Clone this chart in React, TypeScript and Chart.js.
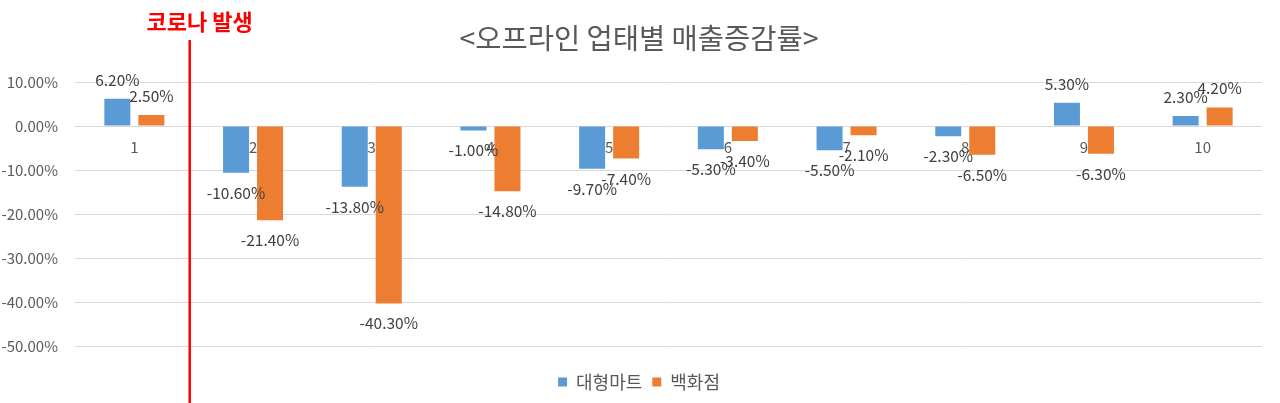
import React, { useEffect, useRef } from 'react';
import { Chart, registerables } from 'chart.js';

Chart.register(...registerables);

const categories = ['1', '2', '3', '4', '5', '6', '7', '8', '9', '10'];
const hypermarketValues = [6.2, -10.6, -13.8, -1.0, -9.7, -5.3, -5.5, -2.3, 5.3, 2.3];
const departmentValues = [2.5, -21.4, -40.3, -14.8, -7.4, -3.4, -2.1, -6.5, -6.3, 4.2];
const seriesNames = ['대형마트', '백화점'];
const seriesColors = ['#5B9BD5', '#ED7D31'];
const chartTitle = '<오프라인 업태별 매출증감률>';
const eventLabel = '코로나 발생';
const yMin = -50;
const yMax = 10;
const yStep = 10;

const FONT = "'Noto Sans CJK KR', 'Noto Sans', sans-serif";

const valueLabelPlugin = {
  id: 'valueLabels',
  afterDatasetsDraw(chart: any) {
    const ctx = chart.ctx;
    ctx.save();
    ctx.font = `15.5px ${FONT}`;
    ctx.fillStyle = '#404040';
    ctx.textAlign = 'center';
    ctx.textBaseline = 'middle';
    chart.data.datasets.forEach((ds: any, di: number) => {
      const meta = chart.getDatasetMeta(di);
      meta.data.forEach((bar: any, i: number) => {
        const v = ds.data[i];
        const y = v >= 0 ? bar.y - 19 : bar.y + 20;
        ctx.fillText(v.toFixed(2) + '%', bar.x, y);
      });
    });
    ctx.restore();
  },
};

const eventPlugin = {
  id: 'eventMarker',
  afterDraw(chart: any) {
    const ctx = chart.ctx;
    const xScale = chart.scales.x;
    const x = xScale.getPixelForValue(0.5) - 4;
    ctx.save();
    ctx.strokeStyle = '#FF0000';
    ctx.lineWidth = 2.5;
    ctx.beginPath();
    ctx.moveTo(x, 40);
    ctx.lineTo(x, chart.height);
    ctx.stroke();
    ctx.font = `bold 22px ${FONT}`;
    ctx.fillStyle = '#FF0000';
    ctx.textAlign = 'center';
    ctx.textBaseline = 'middle';
    ctx.fillText(eventLabel, x + 10, 22);
    ctx.restore();
  },
};

export default function App() {
  const canvasRef = useRef<HTMLCanvasElement | null>(null);

  useEffect(() => {
    if (!canvasRef.current) return;
    Chart.defaults.font.family = FONT;
    const chart = new Chart(canvasRef.current, {
      type: 'bar',
      data: {
        labels: categories,
        datasets: [
          {
            label: seriesNames[0],
            data: hypermarketValues,
            backgroundColor: seriesColors[0],
            borderWidth: 0,
            categoryPercentage: 0.573,
            barPercentage: 0.765,
            yAxisID: 'y',
          },
          {
            label: seriesNames[1],
            data: departmentValues,
            backgroundColor: seriesColors[1],
            borderWidth: 0,
            categoryPercentage: 0.573,
            barPercentage: 0.765,
            yAxisID: 'y',
          },
        ],
      },
      options: {
        responsive: false,
        animation: false,
        layout: { padding: { top: 0, left: 0, right: 2, bottom: 2 } },
        plugins: {
          title: {
            display: true,
            text: chartTitle,
            color: '#595959',
            font: { size: 28.5, weight: 'normal', family: FONT },
            padding: { top: 21, bottom: 26.8 },
          },
          legend: {
            display: true,
            position: 'bottom',
            title: { display: true, text: '', padding: 0, font: { size: 14 } },
            labels: {
              boxWidth: 9,
              boxHeight: 9,
              color: '#595959',
              font: { size: 18, family: FONT },
              padding: 10,
            },
          },
          tooltip: { enabled: false },
        },
        scales: {
          x: {
            position: { y: 0 } as any,
            grid: { display: false, drawTicks: false },
            border: { display: false },
            ticks: { color: '#595959', font: { size: 15 }, padding: 12 },
          },
          y: {
            min: yMin,
            max: yMax,
            afterFit(scale: any) {
              scale.width = 75;
            },
            grid: { color: '#D9D9D9', lineWidth: 1, drawTicks: false },
            border: { display: false },
            ticks: {
              stepSize: yStep,
              color: '#595959',
              font: { size: 15 },
              padding: 17,
              callback: (v: any) => Number(v).toFixed(2) + '%',
            },
          },
          yRight: {
            position: 'right',
            display: true,
            min: yMin,
            max: yMax,
            afterFit(scale: any) {
              scale.width = 16;
            },
            grid: { display: false, drawTicks: false },
            border: { display: false },
            ticks: { display: false },
          },
        },
      },
      plugins: [valueLabelPlugin, eventPlugin],
    });
    return () => chart.destroy();
  }, []);

  return (
    <div style={{ position: 'fixed', left: 0, top: 0, width: 1280, height: 403, background: '#fff' }}>
      <canvas ref={canvasRef} width={1280} height={403} style={{ display: 'block' }} />
    </div>
  );
}
